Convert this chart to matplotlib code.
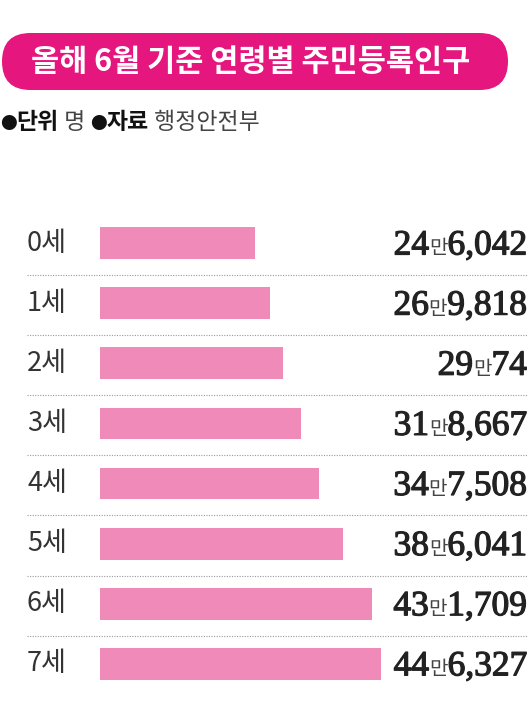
import matplotlib.pyplot as plt
import matplotlib.patheffects as pe
from matplotlib.patches import FancyBboxPatch
from matplotlib.transforms import blended_transform_factory

ages = ['0세', '1세', '2세', '3세', '4세', '5세', '6세', '7세']
population = [246042, 269818, 290074, 318667, 347508, 386041, 431709, 446327]

title = '올해 6월 기준 연령별 주민등록인구'
unit_label, unit_value = '단위', '명'
source_label, source_value = '자료', '행정안전부'

KR = ['Noto Sans CJK KR', 'DejaVu Sans']
NUM = ['Liberation Serif', 'DejaVu Serif']
BAR = '#F08AB8'
PINK = '#E5177E'

fig = plt.figure(figsize=(5.3, 7.27), dpi=100)
fig.patch.set_facecolor('white')

# pixel-space helper axes for the header
bg = fig.add_axes([0, 0, 1, 1])
bg.set_xlim(0, 530)
bg.set_ylim(727, 0)
bg.axis('off')

pill = FancyBboxPatch((2, 33), 506, 57, boxstyle='round,pad=0,rounding_size=28.5',
                      facecolor=PINK, edgecolor='none')
bg.add_patch(pill)
bg.text(251, 62, title, color='white', fontsize=22, fontweight='bold',
        family=KR, ha='center', va='center')

renderer = fig.canvas.get_renderer()

sub_y = 129
x = 0
for s, kw in [('●', dict(fontsize=12, color='#111111')),
              (unit_label, dict(fontsize=16.5, fontweight='bold', color='#111111')),
              (' ' + unit_value + ' ', dict(fontsize=16.5, color='#444444')),
              ('●', dict(fontsize=12, color='#111111')),
              (source_label, dict(fontsize=16.5, fontweight='bold', color='#111111')),
              (' ' + source_value, dict(fontsize=16.5, color='#444444'))]:
    t = bg.text(x, sub_y, s, ha='left', va='baseline', family=KR, **kw)
    x += t.get_window_extent(renderer).width

# bar axes
ax = fig.add_axes([100 / 530, 1 - 694 / 727, 430 / 530, 481 / 727])
ax.barh(range(len(ages)), population, height=0.53, color=BAR)
ax.set_xlim(0, 430 * 446327 / 281)
ax.set_ylim(len(ages) - 0.5, -0.5)
ax.axis('off')

trans = blended_transform_factory(bg.transData, ax.transData)

for i in range(len(ages) - 1):
    ax.plot([27, 527], [i + 0.53, i + 0.53], transform=trans, color='#9a9a9a',
            lw=0.8, ls=(0, (1, 1.3)), clip_on=False)

thick = [pe.withStroke(linewidth=0.9, foreground='#222222')]
num_kw = dict(fontsize=25.5, family=NUM, color='#222222', path_effects=thick)
for i, (age, v) in enumerate(zip(ages, population)):
    bg.text(27, i, age, transform=trans, ha='left', va='center', fontsize=19.5,
            family=KR, fontweight='light', color='#333333')
    man, rest = v // 10000, v % 10000
    parts = [(str(man), num_kw), ('만', dict(fontsize=14.5, family=KR, color='#444444'))]
    if rest:
        parts.append((f'{rest:,}', num_kw))
    x = 527
    for s, kw in reversed(parts):
        t = bg.text(x, i + 0.19, s, transform=trans, ha='right', va='baseline', **kw)
        x -= t.get_window_extent(renderer).width

fig.savefig('out.png', dpi=100)
